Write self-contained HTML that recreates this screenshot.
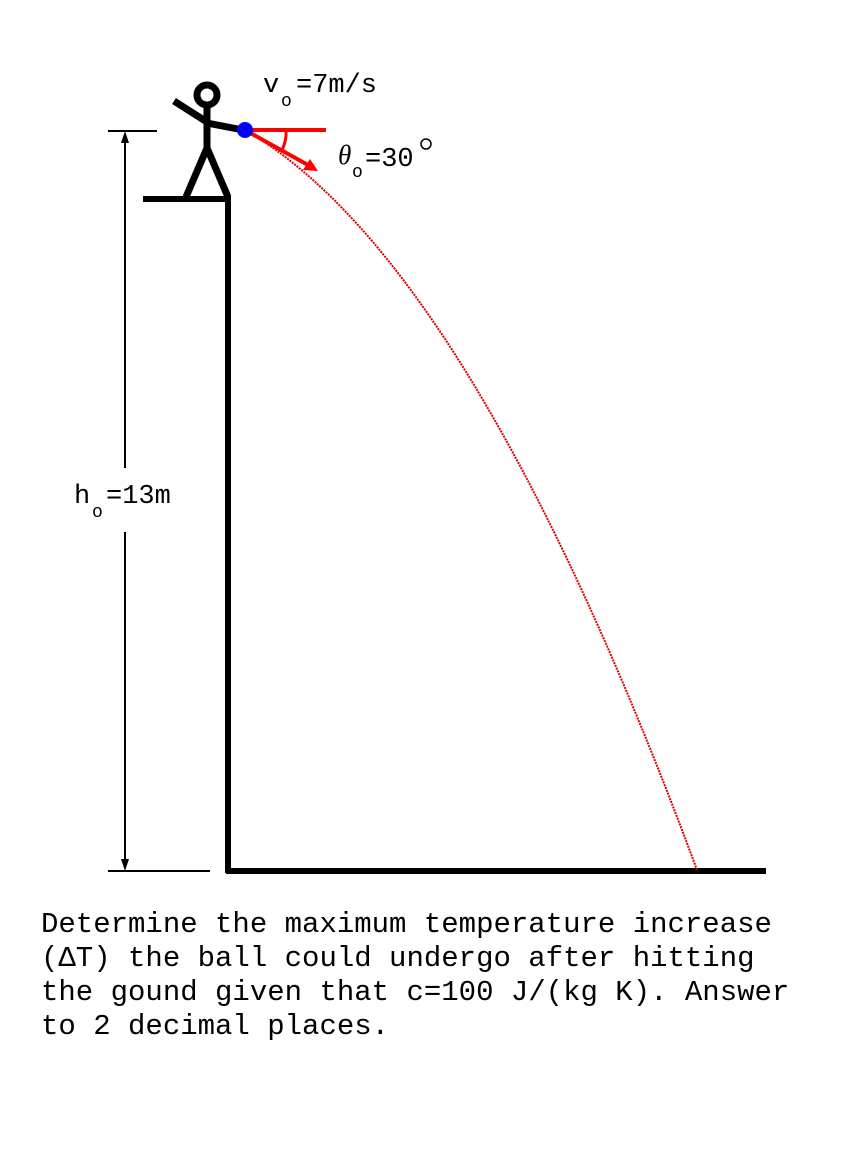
<!DOCTYPE html>
<html><head><style>body{margin:0;background:#fff}</style></head><body>
<svg width="851" height="1155" xmlns="http://www.w3.org/2000/svg">
<rect width="851" height="1155" fill="#fff"/>
<line x1="228" y1="199" x2="228" y2="873" stroke="#000" stroke-width="6"/>
<line x1="226" y1="871" x2="766" y2="871" stroke="#000" stroke-width="6"/>
<line x1="143" y1="199" x2="231" y2="199" stroke="#000" stroke-width="6"/>
<circle cx="207" cy="95" r="10" fill="none" stroke="#000" stroke-width="7"/>
<line x1="207" y1="105" x2="207" y2="150" stroke="#000" stroke-width="7"/>
<line x1="174" y1="101" x2="207" y2="122" stroke="#000" stroke-width="7"/>
<line x1="207" y1="123" x2="243" y2="130" stroke="#000" stroke-width="7"/>
<line x1="207" y1="148" x2="186" y2="197" stroke="#000" stroke-width="7"/>
<line x1="207" y1="148" x2="228" y2="197" stroke="#000" stroke-width="7"/>
<path d="M245,130 Q471,260 697,870" fill="none" stroke="#d00" stroke-width="2" stroke-dasharray="2,1"/>
<line x1="245" y1="130" x2="326" y2="130" stroke="#f00" stroke-width="4"/>
<line x1="245" y1="130" x2="308" y2="165" stroke="#f00" stroke-width="4"/>
<polygon points="318,171 303,170 310,159" fill="#f00"/>
<path d="M286,130 Q287,141 281,152" fill="none" stroke="#f00" stroke-width="3"/>
<circle cx="245" cy="130" r="8" fill="#00f"/>
<line x1="108" y1="131" x2="157" y2="131" stroke="#000" stroke-width="2"/>
<line x1="108" y1="871" x2="210" y2="871" stroke="#000" stroke-width="2"/>
<line x1="125" y1="140" x2="125" y2="468" stroke="#000" stroke-width="2"/>
<line x1="125" y1="532" x2="125" y2="862" stroke="#000" stroke-width="2"/>
<polygon points="125,131 121,143 129,143" fill="#000"/>
<polygon points="125,871 121,859 129,859" fill="#000"/>
<g font-family="Liberation Mono, monospace" font-size="27" fill="#000">
<text x="263" y="92">v</text><text x="281" y="106" font-size="18">o</text><text x="296" y="92">=7m/s</text>
<text x="338" y="164" font-family="Liberation Serif, serif" font-style="italic">θ</text><text x="352" y="177" font-size="18">o</text><text x="365" y="166">=30</text><circle cx="426" cy="144" r="5" fill="none" stroke="#000" stroke-width="1.5"/>
<text x="74" y="503">h</text><text x="92" y="517" font-size="18">o</text><text x="106" y="503">=13m</text>
</g>
<g font-family="Liberation Mono, monospace" font-size="29" fill="#000">
<text x="41" y="932">Determine the maximum temperature increase</text>
<text x="41" y="966">(ΔT) the ball could undergo after hitting</text>
<text x="41" y="1000">the gound given that c=100 J/(kg K). Answer</text>
<text x="41" y="1034">to 2 decimal places.</text>
</g>
</svg>
</body></html>
